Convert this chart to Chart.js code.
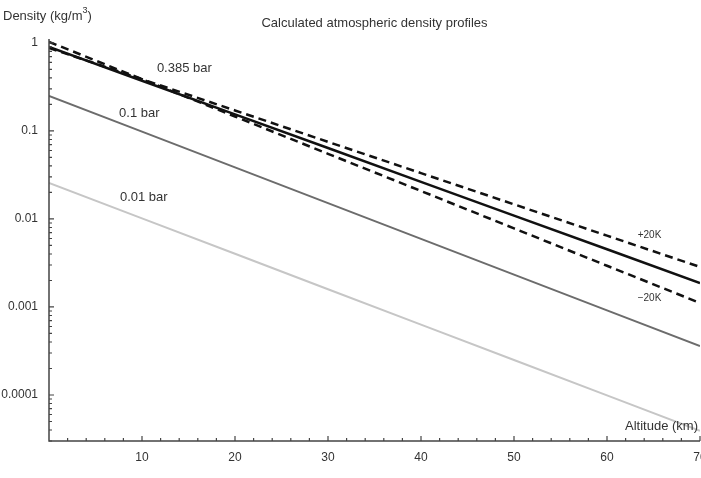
<!DOCTYPE html>
<html>
<head>
<meta charset="utf-8">
<script src="https://cdn.jsdelivr.net/npm/chart.js@4.4.1/dist/chart.umd.min.js"></script>
<style>
  html, body { margin: 0; padding: 0; background: #fff; }
  #wrap { width: 701px; height: 478px; }
</style>
</head>
<body>
<div id="wrap"><canvas id="chart_density"></canvas></div>
<script>
// altitude in km, density in kg/m3
const altitudes = [0, 10, 20, 30, 40, 50, 60, 70];
const density0385 = [0.90, 0.372, 0.154, 0.064, 0.0264, 0.0109, 0.00453, 0.00187];
const densityPlus20K = [0.877, 0.387, 0.171, 0.0752, 0.0332, 0.01466, 0.00646, 0.00285];
const densityMinus20K = [1.03, 0.387, 0.146, 0.055, 0.0208, 0.00782, 0.00294, 0.00111];
const density01 = [0.25, 0.0982, 0.0385, 0.01514, 0.00594, 0.00233, 0.000916, 0.000360];
const density001 = [0.0257, 0.01016, 0.00403, 0.00159, 0.00063, 0.00025, 0.0000989, 0.0000392];

const xTickLabels = [10, 20, 30, 40, 50, 60, 70];
const yTickLabels = ["1", "0.1", "0.01", "0.001", "0.0001"];
const yTickValues = [1, 0.1, 0.01, 0.001, 0.0001];

const FONT = '"Liberation Sans", Arial, Helvetica, sans-serif';
const TEXT = '#333';

function pts(ys) {
  return altitudes.map((a, i) => ({ x: a, y: ys[i] }));
}

const axesPlugin = {
  id: 'axes',
  afterDatasetsDraw(chart) {
    const { ctx, chartArea: a, scales: { x, y } } = chart;
    ctx.save();
    ctx.strokeStyle = '#444';
    ctx.lineWidth = 1.5;
    ctx.beginPath();
    ctx.moveTo(a.left, a.top - 1);
    ctx.lineTo(a.left, a.bottom);
    ctx.lineTo(a.right, a.bottom);
    ctx.stroke();

    // x ticks, pointing up into the plot
    ctx.lineWidth = 1.2;
    ctx.beginPath();
    for (let v = 2; v <= 70; v += 2) {
      const px = x.getPixelForValue(v);
      const len = v % 10 === 0 ? 5 : 3;
      ctx.moveTo(px, a.bottom);
      ctx.lineTo(px, a.bottom - len);
    }
    // y ticks, log minor ticks
    for (let e = -5; e <= 0; e++) {
      for (let m = 1; m <= 9; m++) {
        const v = m * Math.pow(10, e);
        if (v < y.min || v > y.max) continue;
        const py = y.getPixelForValue(v);
        const len = m === 1 ? 5 : 3;
        ctx.moveTo(a.left, py);
        ctx.lineTo(a.left + len, py);
      }
    }
    ctx.stroke();

    ctx.fillStyle = TEXT;
    ctx.textBaseline = 'middle';
    ctx.font = '12px ' + FONT;
    ctx.textAlign = 'center';
    xTickLabels.forEach(v => ctx.fillText(String(v), x.getPixelForValue(v), a.bottom + 17));
    ctx.textAlign = 'right';
    yTickValues.forEach((v, i) => ctx.fillText(yTickLabels[i], a.left - 11, y.getPixelForValue(v)));

    // titles
    ctx.font = '13px ' + FONT;
    ctx.textAlign = 'center';
    ctx.fillText('Calculated atmospheric density profiles', (a.left + a.right) / 2, 23);
    ctx.textAlign = 'left';
    const t1 = 'Density (kg/m';
    ctx.fillText(t1, 3, 16);
    let w = ctx.measureText(t1).width;
    ctx.font = '9px ' + FONT;
    ctx.fillText('3', 3 + w, 11);
    w += ctx.measureText('3').width;
    ctx.font = '13px ' + FONT;
    ctx.fillText(')', 3 + w, 16);
    ctx.textAlign = 'right';
    ctx.fillText('Altitude (km)', 698, 426);

    // curve labels
    ctx.textAlign = 'left';
    ctx.fillText('0.385 bar', x.getPixelForValue(11.6), y.getPixelForValue(0.507));
    ctx.fillText('0.1 bar', x.getPixelForValue(7.54), y.getPixelForValue(0.160));
    ctx.fillText('0.01 bar', x.getPixelForValue(7.63), y.getPixelForValue(0.0178));
    ctx.font = '10px ' + FONT;
    ctx.fillText('+20K', x.getPixelForValue(63.3), y.getPixelForValue(0.00658));
    ctx.fillText('\u221220K', x.getPixelForValue(63.3), y.getPixelForValue(0.00127));
    ctx.restore();
  }
};

const data = {
  datasets: [
    { label: '0.01 bar', data: pts(density001), borderColor: '#c6c6c6', borderWidth: 2 },
    { label: '0.1 bar', data: pts(density01), borderColor: '#6c6c6c', borderWidth: 2 },
    { label: '0.385 bar', data: pts(density0385), borderColor: '#111', borderWidth: 2.5 },
    { label: '+20K', data: pts(densityPlus20K), borderColor: '#111', borderWidth: 2.5, borderDash: [8, 5] },
    { label: '-20K', data: pts(densityMinus20K), borderColor: '#111', borderWidth: 2.5, borderDash: [8, 5] }
  ]
};

const config = {
  type: 'line',
  data,
  options: {
    responsive: true,
    maintainAspectRatio: false,
    animation: false,
    layout: { padding: { top: 40, right: 1, left: 0, bottom: 0 } },
    elements: { point: { radius: 0 }, line: { tension: 0 } },
    plugins: { legend: { display: false }, tooltip: { enabled: false } },
    scales: {
      x: {
        type: 'linear', min: 0, max: 70,
        grid: { display: false }, border: { display: false }, ticks: { display: false },
        afterFit(s) { s.height = 37; }
      },
      y: {
        type: 'logarithmic', min: 3e-5, max: 1.08,
        grid: { display: false }, border: { display: false }, ticks: { display: false },
        afterFit(s) { s.width = 49; }
      }
    }
  },
  plugins: [axesPlugin]
};

var myChart = new Chart(document.getElementById('chart_density'), config);
</script>
</body>
</html>
